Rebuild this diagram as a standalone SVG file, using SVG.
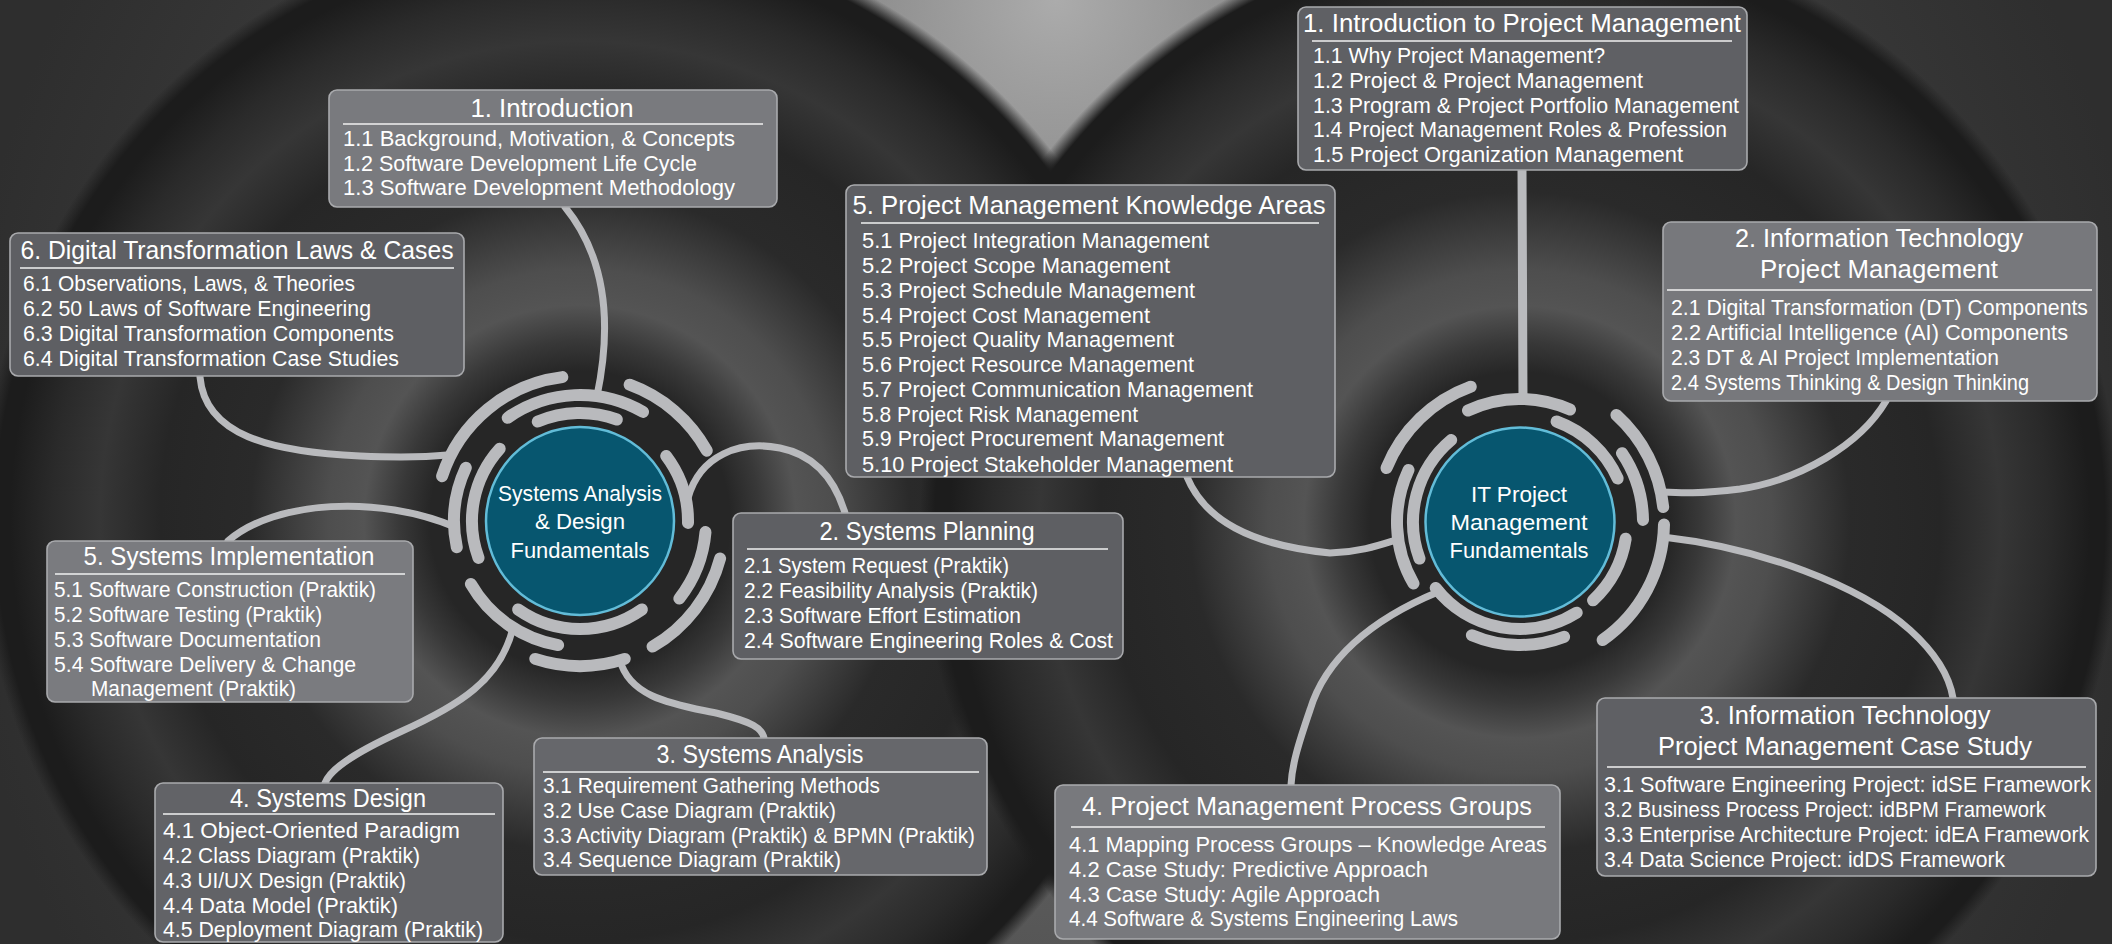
<svg xmlns="http://www.w3.org/2000/svg" width="2112" height="944" viewBox="0 0 2112 944">
<defs>
<radialGradient id="base" gradientUnits="userSpaceOnUse" cx="1056" cy="472" r="1100">
<stop offset="0" stop-color="#707070"/>
<stop offset="0.45" stop-color="#555555"/>
<stop offset="0.75" stop-color="#3a3a3a"/>
<stop offset="1" stop-color="#2e2e2e"/>
</radialGradient>
<radialGradient id="top" gradientUnits="userSpaceOnUse" cx="1056" cy="0" r="460">
<stop offset="0" stop-color="#b0b0b0" stop-opacity="0.95"/>
<stop offset="0.4" stop-color="#a8a8a8" stop-opacity="0.7"/>
<stop offset="1" stop-color="#a8a8a8" stop-opacity="0"/>
</radialGradient>
<radialGradient id="discL" gradientUnits="userSpaceOnUse" cx="580" cy="521" r="600">
<stop offset="0" stop-color="#262626"/>
<stop offset="0.25" stop-color="#262626"/>
<stop offset="0.3" stop-color="#383838"/>
<stop offset="0.36" stop-color="#545454"/>
<stop offset="0.42" stop-color="#4e4e4e"/>
<stop offset="0.55" stop-color="#2a2a2a"/>
<stop offset="0.7" stop-color="#262626"/>
<stop offset="0.8" stop-color="#363636"/>
<stop offset="0.88" stop-color="#2a2a2a"/>
<stop offset="0.95" stop-color="#1c1c1c"/>
<stop offset="0.975" stop-color="#1c1c1c" stop-opacity="1"/>
<stop offset="1" stop-color="#1c1c1c" stop-opacity="0"/>
</radialGradient>
<radialGradient id="discR" gradientUnits="userSpaceOnUse" cx="1520" cy="522" r="600" href="#discL"/>
<style>
.box{stroke:#a9aaad;stroke-width:1.6}
.t{font-family:"Liberation Sans",Arial,sans-serif;font-size:25.5px;fill:#fff;text-anchor:middle}
.i{font-family:"Liberation Sans",Arial,sans-serif;font-size:22px;fill:#fff}
.h{font-family:"Liberation Sans",Arial,sans-serif;font-size:22.5px;fill:#fff;text-anchor:middle}
.ul{stroke:#f0f0f0;stroke-width:1.5}
.ring{fill:none;stroke:#b9babd;stroke-width:12;stroke-linecap:round}
.con{fill:none;stroke:#b9babd;stroke-width:7;stroke-linecap:round}
.hub{fill:#07566f;stroke:#62bcd8;stroke-width:2.5}
</style>
</defs>
<rect width="2112" height="944" fill="url(#base)"/>
<rect width="2112" height="944" fill="url(#top)"/>
<circle cx="580" cy="521" r="600" fill="url(#discL)"/>
<circle cx="1520" cy="522" r="600" fill="url(#discR)"/>

<g id="connectors">
<path class="con" d="M565 207 C600 250 615 310 597 396"/>
<path class="con" d="M200 377 C205 435 270 452 360 456 C410 458 437 456 447 455"/>
<path class="con" d="M228 541 C275 500 380 495 455 527"/>
<path class="con" d="M513 628 C500 680 460 705 400 732 C350 755 330 770 325 783"/>
<path class="con" d="M620 660 C630 700 680 705 720 714 C752 722 762 728 764 738"/>
<path class="con" d="M688 498 C700 455 740 440 780 448 C815 455 835 480 845 513"/>
<path class="con" style="stroke-width:9" d="M1522 170 L1523 399"/>
<path class="con" d="M1886 401 C1860 445 1800 480 1740 489 C1700 494 1680 493 1662 492"/>
<path class="con" d="M1663 537 C1760 548 1860 585 1910 630 C1940 657 1950 680 1953 698"/>
<path class="con" d="M1187 477 C1205 520 1250 545 1330 553 C1360 552 1380 545 1396 540"/>
<path class="con" d="M1438 592 C1370 620 1325 660 1310 710 C1298 745 1292 765 1291 785"/>
</g>

<g id="hub-sad">
<path class="ring" d="M537.8 421.6 A108 108 0 0 1 616.9 419.5"/>
<path class="ring" d="M666.2 456 A108 108 0 0 1 688 522.9"/>
<path class="ring" d="M478.5 557.9 A108 108 0 0 1 499.7 448.7"/>
<path class="ring" d="M641.9 609.5 A108 108 0 0 1 518.1 609.5"/>
<path class="ring" d="M507.7 417.8 A126 126 0 0 1 643 411.9"/>
<path class="ring" d="M705.5 532 A126 126 0 0 1 679.3 598.6"/>
<path class="ring" d="M456.8 547.2 A126 126 0 0 1 465.8 467.8"/>
<path class="ring" d="M558.1 645.1 A126 126 0 0 1 470.9 584"/>
<path class="ring" d="M442.1 476.2 A145 145 0 0 1 562.3 377.1"/>
<path class="ring" d="M629.6 384.7 A145 145 0 0 1 706.8 450.7"/>
<path class="ring" d="M720.1 558.5 A145 145 0 0 1 652.5 646.6"/>
<path class="ring" d="M624.8 658.9 A145 145 0 0 1 535.2 658.9"/>
<circle class="hub" cx="580" cy="521" r="94"/>
<text class="h" x="580" y="501" textLength="164" lengthAdjust="spacingAndGlyphs">Systems Analysis</text>
<text class="h" x="580" y="529" textLength="90" lengthAdjust="spacingAndGlyphs">&amp; Design</text>
<text class="h" x="580" y="558" textLength="139" lengthAdjust="spacingAndGlyphs">Fundamentals</text>
</g>

<g id="hub-itpm">
<path class="ring" d="M1556.6 421.5 A107 107 0 0 1 1617.7 478.5"/>
<path class="ring" d="M1625.7 538.7 A107 107 0 0 1 1593 600.3"/>
<path class="ring" d="M1576.7 612.7 A107 107 0 0 1 1435.7 587.9"/>
<path class="ring" d="M1419.5 558.6 A107 107 0 0 1 1451.2 440"/>
<path class="ring" d="M1468 410.5 A123 123 0 0 1 1570 409.6"/>
<path class="ring" d="M1622 453.2 A123 123 0 0 1 1643 519.9"/>
<path class="ring" d="M1564.1 636.8 A123 123 0 0 1 1471.9 635.2"/>
<path class="ring" d="M1413.5 583.5 A123 123 0 0 1 1408.5 470"/>
<path class="ring" d="M1386.5 468.1 A144 144 0 0 1 1470.8 386.7"/>
<path class="ring" d="M1616.4 415 A144 144 0 0 1 1663.2 507"/>
<path class="ring" d="M1664 524.5 A144 144 0 0 1 1602.6 640"/>
<circle class="hub" cx="1520" cy="522" r="94.5"/>
<text class="h" x="1519" y="502" textLength="96" lengthAdjust="spacingAndGlyphs">IT Project</text>
<text class="h" x="1519" y="530" textLength="137" lengthAdjust="spacingAndGlyphs">Management</text>
<text class="h" x="1519" y="558" textLength="139" lengthAdjust="spacingAndGlyphs">Fundamentals</text>
</g>

<g id="n-introduction">
<rect class="box" x="329" y="90" width="448" height="117" rx="8" fill="#797a7e"/>
<text class="t" x="552" y="117" textLength="163" lengthAdjust="spacingAndGlyphs">1. Introduction</text>
<line class="ul" x1="343" y1="124" x2="763" y2="124"/>
<text class="i" x="343" y="146" textLength="392" lengthAdjust="spacingAndGlyphs">1.1 Background, Motivation, &amp; Concepts</text>
<text class="i" x="343" y="171" textLength="354" lengthAdjust="spacingAndGlyphs">1.2 Software Development Life Cycle</text>
<text class="i" x="343" y="195" textLength="392" lengthAdjust="spacingAndGlyphs">1.3 Software Development Methodology</text>
</g>

<g id="n-dt-laws">
<rect class="box" x="10" y="233" width="454" height="143" rx="8" fill="#5e5f63"/>
<text class="t" x="237" y="259" textLength="433" lengthAdjust="spacingAndGlyphs">6. Digital Transformation Laws &amp; Cases</text>
<line class="ul" x1="20" y1="268" x2="454" y2="268"/>
<text class="i" x="23" y="291" textLength="332" lengthAdjust="spacingAndGlyphs">6.1 Observations, Laws, &amp; Theories</text>
<text class="i" x="23" y="316" textLength="348" lengthAdjust="spacingAndGlyphs">6.2 50 Laws of Software Engineering</text>
<text class="i" x="23" y="341" textLength="371" lengthAdjust="spacingAndGlyphs">6.3 Digital Transformation Components</text>
<text class="i" x="23" y="366" textLength="376" lengthAdjust="spacingAndGlyphs">6.4 Digital Transformation Case Studies</text>
</g>

<g id="n-implementation">
<rect class="box" x="47" y="541" width="366" height="161" rx="8" fill="#7a7b7f"/>
<text class="t" x="229" y="565" textLength="291" lengthAdjust="spacingAndGlyphs">5. Systems Implementation</text>
<line class="ul" x1="55" y1="574" x2="405" y2="574"/>
<text class="i" x="54" y="597" textLength="322" lengthAdjust="spacingAndGlyphs">5.1 Software Construction (Praktik)</text>
<text class="i" x="54" y="622" textLength="268" lengthAdjust="spacingAndGlyphs">5.2 Software Testing (Praktik)</text>
<text class="i" x="54" y="647" textLength="267" lengthAdjust="spacingAndGlyphs">5.3 Software Documentation</text>
<text class="i" x="54" y="672" textLength="302" lengthAdjust="spacingAndGlyphs">5.4 Software Delivery &amp; Change</text>
<text class="i" x="91" y="696" textLength="205" lengthAdjust="spacingAndGlyphs">Management (Praktik)</text>
</g>

<g id="n-planning">
<rect class="box" x="733" y="513" width="390" height="146" rx="8" fill="#5e5f63"/>
<text class="t" x="927" y="540" textLength="215" lengthAdjust="spacingAndGlyphs">2. Systems Planning</text>
<line class="ul" x1="747" y1="549" x2="1108" y2="549"/>
<text class="i" x="744" y="573" textLength="265" lengthAdjust="spacingAndGlyphs">2.1 System Request (Praktik)</text>
<text class="i" x="744" y="598" textLength="294" lengthAdjust="spacingAndGlyphs">2.2 Feasibility Analysis (Praktik)</text>
<text class="i" x="744" y="623" textLength="277" lengthAdjust="spacingAndGlyphs">2.3 Software Effort Estimation</text>
<text class="i" x="744" y="648" textLength="369" lengthAdjust="spacingAndGlyphs">2.4 Software Engineering Roles &amp; Cost</text>
</g>

<g id="n-analysis">
<rect class="box" x="534" y="738" width="453" height="137" rx="8" fill="#66676b"/>
<text class="t" x="760" y="763" textLength="207" lengthAdjust="spacingAndGlyphs">3. Systems Analysis</text>
<line class="ul" x1="543" y1="772" x2="979" y2="772"/>
<text class="i" x="543" y="793" textLength="337" lengthAdjust="spacingAndGlyphs">3.1 Requirement Gathering Methods</text>
<text class="i" x="543" y="818" textLength="293" lengthAdjust="spacingAndGlyphs">3.2 Use Case Diagram (Praktik)</text>
<text class="i" x="543" y="843" textLength="432" lengthAdjust="spacingAndGlyphs">3.3 Activity Diagram (Praktik) &amp; BPMN (Praktik)</text>
<text class="i" x="543" y="867" textLength="298" lengthAdjust="spacingAndGlyphs">3.4 Sequence Diagram (Praktik)</text>
</g>

<g id="n-design">
<rect class="box" x="155" y="783" width="348" height="159" rx="8" fill="#626367"/>
<text class="t" x="328" y="807" textLength="196" lengthAdjust="spacingAndGlyphs">4. Systems Design</text>
<line class="ul" x1="163" y1="814" x2="495" y2="814"/>
<text class="i" x="163" y="838" textLength="297" lengthAdjust="spacingAndGlyphs">4.1 Object-Oriented Paradigm</text>
<text class="i" x="163" y="863" textLength="257" lengthAdjust="spacingAndGlyphs">4.2 Class Diagram (Praktik)</text>
<text class="i" x="163" y="888" textLength="243" lengthAdjust="spacingAndGlyphs">4.3 UI/UX Design (Praktik)</text>
<text class="i" x="163" y="913" textLength="235" lengthAdjust="spacingAndGlyphs">4.4 Data Model (Praktik)</text>
<text class="i" x="163" y="937" textLength="320" lengthAdjust="spacingAndGlyphs">4.5 Deployment Diagram (Praktik)</text>
</g>

<g id="n-knowledge-areas">
<rect class="box" x="846" y="185" width="489" height="292" rx="8" fill="#5e5f63"/>
<text class="t" x="1089" y="214" textLength="473" lengthAdjust="spacingAndGlyphs">5. Project Management Knowledge Areas</text>
<line class="ul" x1="861" y1="223" x2="1319" y2="223"/>
<text class="i" x="862" y="248" textLength="347" lengthAdjust="spacingAndGlyphs">5.1 Project Integration Management</text>
<text class="i" x="862" y="273" textLength="308" lengthAdjust="spacingAndGlyphs">5.2 Project Scope Management</text>
<text class="i" x="862" y="298" textLength="333" lengthAdjust="spacingAndGlyphs">5.3 Project Schedule Management</text>
<text class="i" x="862" y="323" textLength="288" lengthAdjust="spacingAndGlyphs">5.4 Project Cost Management</text>
<text class="i" x="862" y="347" textLength="312" lengthAdjust="spacingAndGlyphs">5.5 Project Quality Management</text>
<text class="i" x="862" y="372" textLength="332" lengthAdjust="spacingAndGlyphs">5.6 Project Resource Management</text>
<text class="i" x="862" y="397" textLength="391" lengthAdjust="spacingAndGlyphs">5.7 Project Communication Management</text>
<text class="i" x="862" y="422" textLength="276" lengthAdjust="spacingAndGlyphs">5.8 Project Risk Management</text>
<text class="i" x="862" y="446" textLength="362" lengthAdjust="spacingAndGlyphs">5.9 Project Procurement Management</text>
<text class="i" x="862" y="472" textLength="371" lengthAdjust="spacingAndGlyphs">5.10 Project Stakeholder Management</text>
</g>

<g id="n-pm-intro">
<rect class="box" x="1298" y="7" width="449" height="163" rx="8" fill="#5f6064"/>
<text class="t" x="1522" y="32" textLength="438" lengthAdjust="spacingAndGlyphs">1. Introduction to Project Management</text>
<line class="ul" x1="1312" y1="41" x2="1732" y2="41"/>
<text class="i" x="1313" y="63" textLength="292" lengthAdjust="spacingAndGlyphs">1.1 Why Project Management?</text>
<text class="i" x="1313" y="88" textLength="330" lengthAdjust="spacingAndGlyphs">1.2 Project &amp; Project Management</text>
<text class="i" x="1313" y="113" textLength="426" lengthAdjust="spacingAndGlyphs">1.3 Program &amp; Project Portfolio Management</text>
<text class="i" x="1313" y="137" textLength="414" lengthAdjust="spacingAndGlyphs">1.4 Project Management Roles &amp; Profession</text>
<text class="i" x="1313" y="162" textLength="370" lengthAdjust="spacingAndGlyphs">1.5 Project Organization Management</text>
</g>

<g id="n-itpm">
<rect class="box" x="1663" y="222" width="434" height="179" rx="8" fill="#77787c"/>
<text class="t" x="1879" y="247" textLength="288" lengthAdjust="spacingAndGlyphs">2. Information Technology</text>
<text class="t" x="1879" y="278" textLength="238" lengthAdjust="spacingAndGlyphs">Project Management</text>
<line class="ul" x1="1667" y1="290" x2="2092" y2="290"/>
<text class="i" x="1671" y="315" textLength="417" lengthAdjust="spacingAndGlyphs">2.1 Digital Transformation (DT) Components</text>
<text class="i" x="1671" y="340" textLength="397" lengthAdjust="spacingAndGlyphs">2.2 Artificial Intelligence (AI) Components</text>
<text class="i" x="1671" y="365" textLength="328" lengthAdjust="spacingAndGlyphs">2.3 DT &amp; AI Project Implementation</text>
<text class="i" x="1671" y="390" textLength="358" lengthAdjust="spacingAndGlyphs">2.4 Systems Thinking &amp; Design Thinking</text>
</g>

<g id="n-case-study">
<rect class="box" x="1597" y="698" width="499" height="178" rx="8" fill="#5f6064"/>
<text class="t" x="1845" y="724" textLength="291" lengthAdjust="spacingAndGlyphs">3. Information Technology</text>
<text class="t" x="1845" y="755" textLength="374" lengthAdjust="spacingAndGlyphs">Project Management Case Study</text>
<line class="ul" x1="1607" y1="767" x2="2086" y2="767"/>
<text class="i" x="1604" y="792" textLength="487" lengthAdjust="spacingAndGlyphs">3.1 Software Engineering Project: idSE Framework</text>
<text class="i" x="1604" y="817" textLength="442" lengthAdjust="spacingAndGlyphs">3.2 Business Process Project: idBPM Framework</text>
<text class="i" x="1604" y="842" textLength="485" lengthAdjust="spacingAndGlyphs">3.3 Enterprise Architecture Project: idEA Framework</text>
<text class="i" x="1604" y="867" textLength="401" lengthAdjust="spacingAndGlyphs">3.4 Data Science Project: idDS Framework</text>
</g>

<g id="n-process-groups">
<rect class="box" x="1055" y="785" width="505" height="154" rx="8" fill="#78797d"/>
<text class="t" x="1307" y="815" textLength="450" lengthAdjust="spacingAndGlyphs">4. Project Management Process Groups</text>
<line class="ul" x1="1071" y1="827" x2="1545" y2="827"/>
<text class="i" x="1069" y="852" textLength="478" lengthAdjust="spacingAndGlyphs">4.1 Mapping Process Groups – Knowledge Areas</text>
<text class="i" x="1069" y="877" textLength="359" lengthAdjust="spacingAndGlyphs">4.2 Case Study: Predictive Approach</text>
<text class="i" x="1069" y="902" textLength="311" lengthAdjust="spacingAndGlyphs">4.3 Case Study: Agile Approach</text>
<text class="i" x="1069" y="926" textLength="389" lengthAdjust="spacingAndGlyphs">4.4 Software &amp; Systems Engineering Laws</text>
</g>
</svg>
